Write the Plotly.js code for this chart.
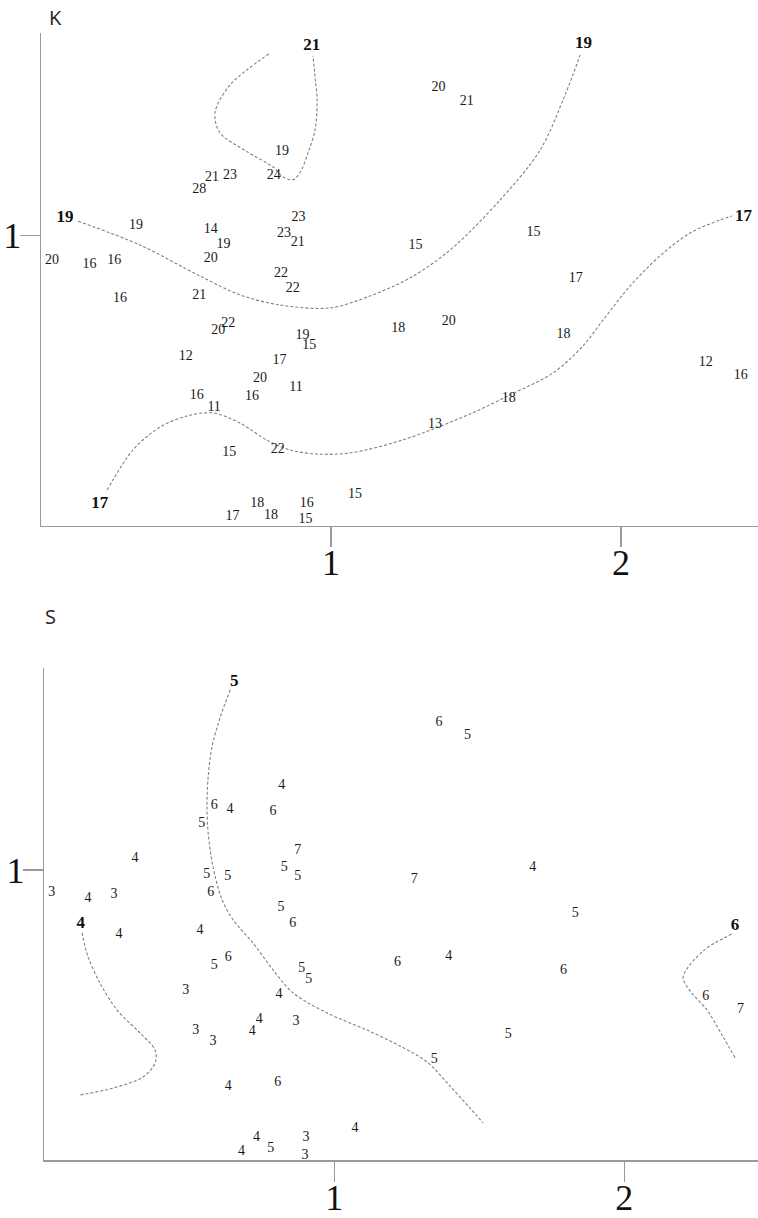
<!DOCTYPE html>
<html>
<head>
<meta charset="utf-8">
<script src="https://cdn.plot.ly/plotly-3.0.1.min.js"></script>
<style>html,body{margin:0;padding:0;background:#fff;}#chart{width:758px;height:1218px;}</style>
</head>
<body>
<div id="chart"></div>
<script>
// ---------- Panel K : sample values ----------
const kX = [0.831,0.803,0.590,0.652,0.546,0.328,0.585,0.629,0.585,0.038,0.167,0.253,0.888,0.838,0.885,0.828,0.868,0.272,0.546,0.611,0.646,0.499,0.902,0.925,0.822,0.755,0.879,0.537,0.728,0.597,0.649,0.816,0.660,0.746,0.793,0.916,0.912,1.083,1.371,1.468,1.291,1.698,1.844,1.232,1.406,1.802,2.292,2.413,1.613,1.359];
const kY = [1.292,1.206,1.199,1.206,1.160,1.034,1.020,0.968,0.922,0.916,0.902,0.916,1.064,1.009,0.977,0.871,0.819,0.782,0.793,0.672,0.698,0.582,0.657,0.620,0.571,0.509,0.478,0.448,0.445,0.406,0.254,0.263,0.030,0.075,0.034,0.075,0.020,0.109,1.512,1.462,0.967,1.011,0.852,0.680,0.703,0.658,0.564,0.519,0.437,0.350];
const kText = ["19","24","21","23","28","19","14","19","20","20","16","16","23","23","21","22","22","16","21","20","22","12","19","15","17","20","11","16","16","11","15","22","17","18","18","16","15","15","20","21","15","15","17","18","20","18","12","16","18","13"];

// ---------- Panel K : contour labels ----------
const kIsoX = [0.934,1.871,0.083,2.422,0.203];
const kIsoY = [1.654,1.663,1.061,1.067,0.077];
const kIsoText = ["21","19","19","17","17"];

// ---------- Panel K : contour lines ----------
const kLine21X = [0.786,0.652,0.600,0.617,0.710,0.800,0.834,0.869,0.893,0.921,0.945,0.952,0.945,0.938];
const kLine21Y = [1.627,1.520,1.424,1.355,1.290,1.237,1.203,1.193,1.217,1.286,1.365,1.468,1.547,1.620];
const kLine19X = [0.128,0.341,0.548,0.686,0.824,0.997,1.134,1.272,1.410,1.583,1.721,1.807,1.859];
const kLine19Y = [1.050,0.968,0.861,0.796,0.761,0.751,0.792,0.854,0.950,1.123,1.295,1.485,1.623];
const kLine17X = [0.228,0.317,0.410,0.503,0.593,0.686,0.779,0.859,0.952,1.066,1.248,1.479,1.617,1.766,1.869,1.938,2.031,2.134,2.238,2.341,2.383];
const kLine17Y = [0.123,0.261,0.340,0.378,0.389,0.354,0.295,0.261,0.247,0.251,0.296,0.385,0.451,0.527,0.620,0.709,0.826,0.930,1.009,1.054,1.068];

// ---------- Panel S : sample values ----------
const sX = [0.819,0.586,0.640,0.789,0.543,0.313,0.874,0.827,0.874,0.560,0.633,0.574,0.026,0.151,0.240,0.816,0.857,0.258,0.537,0.586,0.634,0.888,0.912,1.218,1.395,0.488,0.809,0.741,0.717,0.868,0.522,0.582,1.600,1.345,0.634,0.805,1.071,0.732,0.680,0.781,0.902,0.899,1.361,1.459,1.276,1.684,1.831,1.790,2.281,2.401];
const sY = [1.293,1.224,1.207,1.203,1.162,1.038,1.066,1.010,0.976,0.986,0.976,0.921,0.921,0.900,0.917,0.869,0.817,0.779,0.793,0.672,0.697,0.659,0.621,0.680,0.701,0.583,0.569,0.486,0.442,0.476,0.445,0.407,0.434,0.348,0.255,0.266,0.110,0.076,0.028,0.038,0.076,0.017,1.510,1.463,0.967,1.010,0.850,0.652,0.564,0.519];
const sText = ["4","6","4","6","5","4","7","5","5","5","5","6","3","4","3","5","6","4","4","5","6","5","5","6","4","3","4","4","4","3","3","3","5","5","4","6","4","4","4","5","3","3","6","5","7","4","5","6","6","7"];

// ---------- Panel S : contour labels ----------
const sIsoX = [0.655,0.126,2.382];
const sIsoY = [1.648,0.814,0.806];
const sIsoText = ["5","4","6"];

// ---------- Panel S : contour lines ----------
const sLine5X = [0.641,0.607,0.578,0.565,0.561,0.565,0.582,0.613,0.651,0.720,0.789,0.858,0.975,1.113,1.227,1.320,1.399,1.468,1.513];
const sLine5Y = [1.621,1.528,1.424,1.321,1.217,1.128,1.010,0.897,0.828,0.748,0.655,0.576,0.507,0.448,0.393,0.338,0.255,0.179,0.128];
const sLine4X = [0.130,0.151,0.192,0.251,0.330,0.382,0.382,0.340,0.237,0.123];
const sLine4Y = [0.783,0.700,0.610,0.517,0.438,0.379,0.334,0.286,0.248,0.224];
const sLine6X = [2.370,2.272,2.203,2.227,2.284,2.341,2.382];
const sLine6Y = [0.779,0.721,0.631,0.583,0.519,0.424,0.353];

// ---------- Axis ticks ----------
const xTickVals = [1, 2];
const xTickText = ["1", "2"];
const yTickVals = [1];
const yTickText = ["1"];
const panelTitles = ["K", "S"];

// ---------- Build ----------
const serif = "Liberation Serif, Times New Roman, serif";
const textCol = "#1a1a1a";
const lineStyle = {color: "#808080", width: 1.1, dash: "3px,2px", shape: "spline", smoothing: 0.9};

function lineTrace(x, y, xa, ya) {
  return {type: "scatter", mode: "lines", x: x, y: y, xaxis: xa, yaxis: ya,
          line: lineStyle, hoverinfo: "skip", cliponaxis: false};
}
function textTrace(x, y, t, xa, ya, size, bold) {
  return {type: "scatter", mode: "text", x: x, y: y, text: bold ? t.map(s => "<b>" + s + "</b>") : t,
          xaxis: xa, yaxis: ya, textposition: "middle center", cliponaxis: false,
          textfont: {family: serif, size: size, color: bold ? "#111" : textCol}, hoverinfo: "skip"};
}

const traces = [
  lineTrace(kLine21X, kLine21Y, "x", "y"),
  lineTrace(kLine19X, kLine19Y, "x", "y"),
  lineTrace(kLine17X, kLine17Y, "x", "y"),
  textTrace(kX, kY, kText, "x", "y", 14, false),
  textTrace(kIsoX, kIsoY, kIsoText, "x", "y", 17, true),
  lineTrace(sLine5X, sLine5Y, "x2", "y2"),
  lineTrace(sLine4X, sLine4Y, "x2", "y2"),
  lineTrace(sLine6X, sLine6Y, "x2", "y2"),
  textTrace(sX, sY, sText, "x2", "y2", 14, false),
  textTrace(sIsoX, sIsoY, sIsoText, "x2", "y2", 17, true)
];

const W = 758, H = 1218;
function xAxis(domainLeftPx, rangeMax, anchor) {
  return {domain: [domainLeftPx / W, 1], range: [0, rangeMax], anchor: anchor,
          showline: true, linecolor: "#9a9a9a", linewidth: 1.5, showgrid: false, zeroline: false,
          ticks: "outside", ticklen: 20, tickwidth: 1.2, tickcolor: "#9a9a9a",
          tickmode: "array", tickvals: xTickVals, ticktext: xTickText, ticklabelstandoff: -15,
          tickfont: {family: serif, size: 36, color: "#111"}, fixedrange: true};
}
function yAxis(topPx, bottomPx, anchor) {
  return {domain: [(H - bottomPx) / H, (H - topPx) / H], range: [0, (bottomPx - topPx) / 290], anchor: anchor,
          showline: true, linecolor: "#9a9a9a", linewidth: 1.5, showgrid: false, zeroline: false,
          ticks: "outside", ticklen: 20, tickwidth: 1.2, tickcolor: "#9a9a9a",
          tickmode: "array", tickvals: yTickVals, ticktext: yTickText, ticklabelstandoff: -9,
          tickfont: {family: serif, size: 36, color: "#111"}, fixedrange: true};
}

const layout = {
  width: W, height: H,
  margin: {l: 0, r: 0, t: 0, b: 0},
  paper_bgcolor: "#fff", plot_bgcolor: "#fff",
  showlegend: false,
  xaxis: xAxis(41, (W - 41) / 290, "y"),
  yaxis: yAxis(33.3, 525.7, "x"),
  xaxis2: xAxis(44.3, (W - 44.3) / 290, "y2"),
  yaxis2: yAxis(667.7, 1160, "x2"),
  annotations: [
    {text: panelTitles[0], xref: "paper", yref: "paper", x: 55 / W, y: (H - 17) / H,
     xanchor: "center", yanchor: "middle", showarrow: false,
     font: {family: "Open Sans, DejaVu Sans, sans-serif", size: 20, color: "#222"}},
    {text: panelTitles[1], xref: "paper", yref: "paper", x: 50 / W, y: (H - 616) / H,
     xanchor: "center", yanchor: "middle", showarrow: false,
     font: {family: "Open Sans, DejaVu Sans, sans-serif", size: 20, color: "#222"}}
  ]
};

Plotly.newPlot("chart", traces, layout, {staticPlot: true, displayModeBar: false});
</script>
</body>
</html>
